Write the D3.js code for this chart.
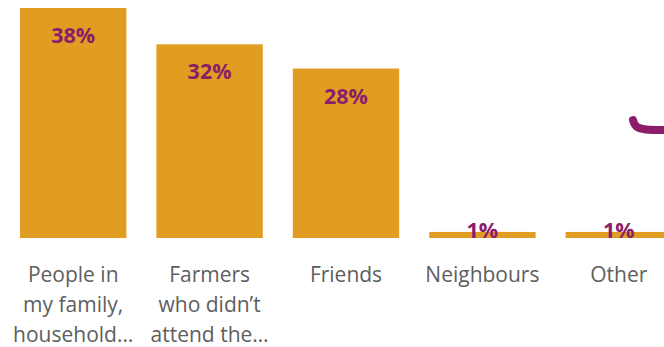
<!DOCTYPE html>
<html>
<head>
<meta charset="utf-8">
<script src="https://cdn.jsdelivr.net/npm/d3@7"></script>
<style>
  html, body { margin: 0; padding: 0; background: #fff; overflow: hidden; }
  svg { display: block; }
</style>
</head>
<body>
<svg id="chart" width="664" height="347"></svg>
<script>
// Who respondents shared information with (share of respondents, %)
const categories = [
  "People in my family, household…",
  "Farmers who didn’t attend the…",
  "Friends",
  "Neighbours",
  "Other"
];
const labelLines = [
  ["People in", "my family,", "household…"],
  ["Farmers", "who didn’t", "attend the…"],
  ["Friends"],
  ["Neighbours"],
  ["Other"]
];
const values = [38, 32, 28, 1, 1];

const barColor = "#E09D21";
const valueColor = "#8C1D6B";
const textColor = "#5E5E5E";

const svg = d3.select("#chart");

const x = d3.scaleBand()
  .domain(categories)
  .range([5, 687])
  .paddingInner(0.22)
  .paddingOuter(0.11);

const y = d3.scaleLinear()
  .domain([0, 38])
  .range([238, 8]);

// bars
svg.append("g")
  .selectAll("rect")
  .data(values)
  .join("rect")
  .attr("x", (d, i) => x(categories[i]))
  .attr("y", d => y(d))
  .attr("width", x.bandwidth())
  .attr("height", d => y(0) - y(d))
  .attr("fill", barColor);

// value labels: inside the top of the bar, resting on the baseline for short bars
svg.append("g")
  .selectAll("text")
  .data(values)
  .join("text")
  .attr("x", (d, i) => x(categories[i]) + x.bandwidth() / 2)
  .attr("y", d => Math.min(y(d) + 35, y(0)))
  .attr("text-anchor", "middle")
  .attr("font-family", "'Open Sans', sans-serif")
  .attr("font-weight", 700)
  .attr("font-size", 21.5)
  .attr("fill", valueColor)
  .text(d => d + "%");

// category labels under the axis, wrapped
const catG = svg.append("g")
  .selectAll("text")
  .data(categories)
  .join("text")
  .attr("x", d => x(d) + x.bandwidth() / 2)
  .attr("y", 282)
  .attr("text-anchor", "middle")
  .attr("font-family", "'Open Sans', sans-serif")
  .attr("font-size", 21)
  .attr("fill", textColor);

catG.each(function (d, i) {
  d3.select(this).selectAll("tspan")
    .data(labelLines[i])
    .join("tspan")
    .attr("x", x(d) + x.bandwidth() / 2)
    .attr("dy", (t, j) => j === 0 ? 0 : 30)
    .text(t => t);
});

// purple connector stroke entering from the right edge
const connector = [[633, 120], [635, 127], [644, 130], [664, 130], [680, 130]];
svg.append("path")
  .attr("d", d3.line().curve(d3.curveBasis)(connector))
  .attr("fill", "none")
  .attr("stroke", valueColor)
  .attr("stroke-width", 8)
  .attr("stroke-linecap", "round");
</script>
</body>
</html>
